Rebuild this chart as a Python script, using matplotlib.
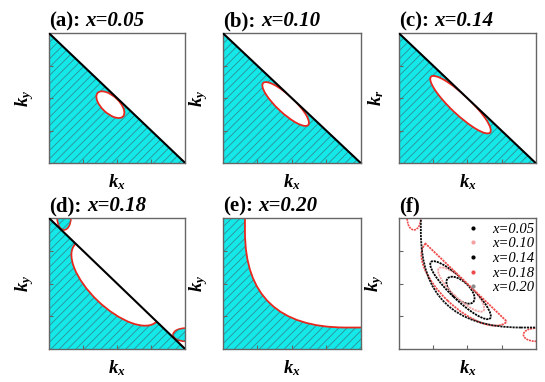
import matplotlib
matplotlib.use('Agg')
import matplotlib.pyplot as plt
from matplotlib.patches import Ellipse, FancyBboxPatch

plt.rcParams['font.family'] = 'Liberation Serif'
plt.rcParams['mathtext.fontset'] = 'custom'
plt.rcParams['mathtext.rm'] = 'Liberation Serif'
plt.rcParams['mathtext.it'] = 'Liberation Serif:italic:bold'
plt.rcParams['mathtext.bf'] = 'Liberation Serif:bold'
plt.rcParams['hatch.linewidth'] = 0.6

# -- panel texts
panel_tags = ['(a):', '(b):', '(c):', '(d):', '(e):', '(f)']
dopings = ['x=0.05', 'x=0.10', 'x=0.14', 'x=0.18', 'x=0.20']
ylabels = [r'$k_y$', r'$k_y$', r'$k_r$', r'$k_y$', r'$k_y$', r'$k_y$']

# -- nodal line kx + ky = 1 (and the zone edges)
diag_kx = [0, 1]
diag_ky = [1, 0]
zone = [0, 1]

# -- hole pocket for (a)-(d): centre, half length along / across the diagonal
pocket_kx = [0.45, 0.455, 0.45, 0.49]
pocket_ky = [0.45, 0.455, 0.45, 0.505]
pocket_long = [0.13, 0.23, 0.305, 0.42]
pocket_short = [0.065, 0.065, 0.072, 0.19]

# -- part of the nodal line that closes the x=0.18 pocket
chord18_kx = [0.19, 0.79]
chord18_ky = [0.81, 0.21]

# -- small corner pockets at x=0.18
corner_kx = [0.11, 1.0]
corner_ky = [1.0, 0.11]
corner_wx = [0.05, 0.09]
corner_wy = [0.09, 0.05]

# -- x=0.20 surface: strip edges + corner radius
fs20_kx0 = 0.16
fs20_ky0 = 0.165
fs20_r = 0.73

cyan = '#14e8e8'
hatch_col = '#2f8f95'
red = '#e8281e'
f_colors = ['black', '#f4a0a0', 'black', '#ee4a4a', '#8a8a8a']
dots = (0, (1.2, 0.5))

# axes rectangles (figure fraction)
rects = [[0.090, 0.573, 0.250, 0.340], [0.409, 0.573, 0.253, 0.340], [0.732, 0.573, 0.251, 0.340],
         [0.090, 0.086, 0.250, 0.343], [0.409, 0.086, 0.253, 0.343], [0.732, 0.086, 0.251, 0.343]]

fig = plt.figure(figsize=(5.45, 3.82), dpi=100)
axes = [fig.add_axes(r) for r in rects]


def setup(ax, i):
    ax.set_xlim(0, 1)
    ax.set_ylim(0, 1)
    ax.set_xticks([0.25, 0.5, 0.75])
    ax.set_yticks([0.25, 0.5, 0.75])
    ax.set_xticklabels([])
    ax.set_yticklabels([])
    ax.tick_params(direction='in', length=3, color='#666666', width=0.8)
    for s in ax.spines.values():
        s.set_color('#666666')
        s.set_linewidth(1.0)
    ax.set_xlabel(r'$k_x$', fontsize=13.5, labelpad=3)
    ax.set_ylabel(ylabels[i], fontsize=13.5, labelpad=6)
    t = ax.text(0.0, 1.015, panel_tags[i], transform=ax.transAxes, fontsize=15,
                fontweight='bold', ha='left', va='bottom')
    if i < 5:
        ax.annotate(dopings[i], xy=(1, 0), xycoords=t, xytext=(4, 0), textcoords='offset points',
                    fontsize=15, fontweight='bold', fontstyle='italic', ha='left', va='bottom')


# (a)-(d): hatched region below the nodal line with a hole pocket
for i in range(4):
    ax = axes[i]
    setup(ax, i)
    tri = ax.fill_between(diag_kx, 0, diag_ky, facecolor=cyan, edgecolor=hatch_col,
                          hatch='////', linewidth=0, zorder=1)
    ell = Ellipse((pocket_kx[i], pocket_ky[i]), 2 * pocket_long[i], 2 * pocket_short[i],
                  angle=-45, facecolor='white', edgecolor=red, linewidth=1.3, zorder=2)
    ax.add_patch(ell)
    ell.set_clip_path(tri.get_paths()[0], transform=ax.transData)
    if i == 3:
        for j in range(2):
            ax.add_patch(Ellipse((corner_kx[j], corner_ky[j]), 2 * corner_wx[j], 2 * corner_wy[j],
                                 facecolor=cyan, edgecolor=red, linewidth=1.2, zorder=2))
            ax.add_patch(Ellipse((corner_kx[j], corner_ky[j]), 2 * corner_wx[j], 2 * corner_wy[j],
                                 facecolor='none', edgecolor=hatch_col, hatch='////', linewidth=0, zorder=2))
    ax.plot(diag_kx, diag_ky, color='black', linewidth=1.5, zorder=3)

# (e): open surface
ax = axes[4]
setup(ax, 4)
ax.fill_between(zone, 0, 1, facecolor=cyan, edgecolor=hatch_col, hatch='////', linewidth=0, zorder=1)
ax.add_patch(FancyBboxPatch((fs20_kx0, fs20_ky0), 2, 2,
                            boxstyle='round,pad=0,rounding_size=%.3f' % fs20_r,
                            facecolor='white', edgecolor=red, linewidth=1.3, zorder=2))

# (f): all surfaces together
ax = axes[5]
setup(ax, 5)
tri = ax.fill_between(diag_kx, 0, diag_ky, facecolor='none', linewidth=0)
for i in range(4):
    ell = Ellipse((pocket_kx[i], pocket_ky[i]), 2 * pocket_long[i], 2 * pocket_short[i],
                  angle=-45, facecolor='none', edgecolor=f_colors[i], linewidth=1.3,
                  linestyle=dots, zorder=2)
    ax.add_patch(ell)
    ell.set_clip_path(tri.get_paths()[0], transform=ax.transData)
ax.plot(chord18_kx, chord18_ky, color=f_colors[3], linewidth=1.3, linestyle=dots, zorder=2)
for j in range(2):
    ax.add_patch(Ellipse((corner_kx[j], corner_ky[j]), 2 * corner_wx[j], 2 * corner_wy[j],
                         facecolor='none', edgecolor=f_colors[3], linewidth=1.2,
                         linestyle=dots, zorder=2))
ax.add_patch(FancyBboxPatch((fs20_kx0, fs20_ky0), 2, 2,
                            boxstyle='round,pad=0,rounding_size=%.3f' % fs20_r,
                            facecolor='none', edgecolor='#111111', linewidth=1.3,
                            linestyle=dots, zorder=2))
for i in range(5):
    ax.plot([], [], '.', color=f_colors[i], markersize=4, label=dopings[i])
ax.legend(loc='upper right', bbox_to_anchor=(1.02, 1.0), frameon=False,
          prop={'style': 'italic', 'size': 10.5}, labelspacing=0.1, handletextpad=0.8,
          handlelength=1.0, borderaxespad=0.1, borderpad=0.2)

fig.savefig('out.png', dpi=100)
